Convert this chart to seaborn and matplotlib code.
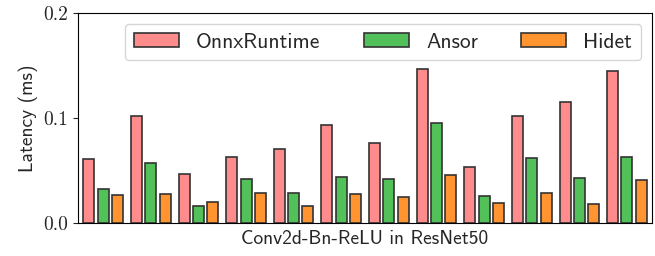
import pandas as pd
import seaborn as sns
import matplotlib.pyplot as plt

# latency (ms) of each Conv2d-Bn-ReLU operator in ResNet50
layers = ['c1', 'c2', 'c3', 'c4', 'c5', 'c6', 'c7', 'c8', 'c9', 'c10', 'c11', 'c12']
onnxruntime = [0.061, 0.102, 0.047, 0.063, 0.071, 0.093, 0.076, 0.147, 0.053, 0.102, 0.115, 0.145]
ansor = [0.032, 0.057, 0.016, 0.042, 0.029, 0.044, 0.042, 0.095, 0.026, 0.062, 0.043, 0.063]
hidet = [0.027, 0.028, 0.020, 0.029, 0.016, 0.028, 0.025, 0.046, 0.019, 0.029, 0.018, 0.041]
executors = ['OnnxRuntime', 'Ansor', 'Hidet']
colors = ['#ff8c8c', '#52c15a', '#ff9430']

df = pd.DataFrame({
    'Layer': layers * 3,
    'Executor': [e for e in executors for _ in layers],
    'Latency': onnxruntime + ansor + hidet,
})

sns.set_style('ticks')
plt.rcParams['font.family'] = 'cmss10'
plt.rcParams['axes.formatter.use_mathtext'] = True
plt.rcParams['axes.edgecolor'] = 'black'

fig, ax = plt.subplots(figsize=(6.55, 2.56), dpi=100)
fig.subplots_adjust(left=0.119, right=0.995, bottom=0.129, top=0.948)

sns.barplot(data=df, x='Layer', y='Latency', hue='Executor', palette=colors,
            saturation=1, width=0.9, gap=0.23, edgecolor='#333333',
            linewidth=1.2, ax=ax)

ax.set_ylim(0, 0.2)
ax.set_xlim(-0.53, 11.52)
ax.set_yticks([0.0, 0.1, 0.2])
ax.set_yticklabels(['0.0', '0.1', '0.2'], fontfamily='cmr10', fontsize=14)
ax.set_xticks([])
ax.set_ylabel('Latency (ms)', fontsize=14)
ax.set_xlabel('Conv2d-Bn-ReLU in ResNet50', fontsize=14, labelpad=5)
for sp in ax.spines.values():
    sp.set_visible(True)
    sp.set_color('black')

handles, labels = ax.get_legend_handles_labels()
ax.legend(handles, labels, loc='upper right', ncol=3, fontsize=15.5,
          handlelength=2.1, handleheight=0.65, handletextpad=0.8,
          columnspacing=2.0, borderaxespad=0.5)

plt.savefig('out.png', dpi=100)
